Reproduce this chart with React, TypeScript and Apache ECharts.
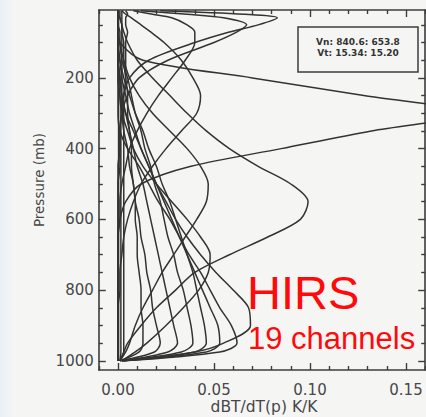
import React, { useEffect, useRef } from "react";
import * as echarts from "echarts";

// Pressure levels (mb) shared by every channel profile
const PRESSURE_MB = [10, 20, 30, 50, 70, 100, 150, 200, 250, 300, 350, 400, 450, 500, 550, 600, 650, 700, 750, 800, 850, 900, 950, 975, 1000];

// Temperature weighting functions dBT/dT(p), one array per HIRS channel
const CH01 = [0.022, 0.066, 0.083, 0.073, 0.058, 0.040, 0.016, 0.006, 0.003, 0.002, 0.001, 0.001, 0.001, 0, 0, 0, 0, 0, 0, 0, 0, 0, 0, 0, 0];
const CH02 = [0.012, 0.036, 0.055, 0.067, 0.062, 0.050, 0.026, 0.011, 0.005, 0.002, 0.001, 0.001, 0, 0, 0, 0, 0, 0, 0, 0, 0, 0, 0, 0, 0];
const CH03 = [0.008, 0.018, 0.028, 0.036, 0.040, 0.040, 0.035, 0.028, 0.021, 0.015, 0.010, 0.006, 0.004, 0.002, 0.001, 0.001, 0, 0, 0, 0, 0, 0, 0, 0, 0];
const CH04 = [0.002, 0.004, 0.007, 0.012, 0.017, 0.024, 0.033, 0.039, 0.043, 0.041, 0.033, 0.025, 0.018, 0.012, 0.008, 0.005, 0.003, 0.002, 0.001, 0.001, 0, 0, 0, 0, 0];
const CH05 = [0, 0, 0, 0, 0, 0.001, 0.013, 0.070, 0.128, 0.185, 0.132, 0.085, 0.038, 0.012, 0.004, 0.001, 0, 0, 0, 0, 0, 0, 0, 0, 0];
const CH06 = [0, 0, 0.001, 0.002, 0.003, 0.005, 0.010, 0.018, 0.027, 0.036, 0.046, 0.058, 0.073, 0.090, 0.099, 0.095, 0.078, 0.058, 0.040, 0.030, 0.020, 0.012, 0.005, 0.003, 0.001];
const CH07 = [0, 0, 0, 0, 0, 0, 0.001, 0.002, 0.004, 0.006, 0.009, 0.012, 0.016, 0.020, 0.025, 0.030, 0.036, 0.043, 0.051, 0.060, 0.068, 0.069, 0.055, 0.040, 0.003];
const CH08 = [0, 0, 0, 0, 0, 0, 0, 0, 0, 0, 0.001, 0.005, 0.011, 0.016, 0.021, 0.027, 0.032, 0.037, 0.043, 0.048, 0.053, 0.059, 0.062, 0.053, 0.003];
const CH09 = [0, 0, 0, 0, 0, 0, 0, 0.001, 0.002, 0.004, 0.008, 0.012, 0.016, 0.020, 0.024, 0.028, 0.032, 0.036, 0.040, 0.044, 0.048, 0.052, 0.053, 0.046, 0.002];
const CH10 = [0, 0, 0, 0, 0, 0, 0, 0.001, 0.001, 0.002, 0.005, 0.008, 0.013, 0.020, 0.028, 0.036, 0.043, 0.048, 0.047, 0.042, 0.034, 0.025, 0.015, 0.009, 0.002];
const CH11 = [0, 0, 0, 0, 0, 0, 0.001, 0.003, 0.006, 0.009, 0.013, 0.016, 0.020, 0.023, 0.027, 0.030, 0.033, 0.036, 0.039, 0.041, 0.043, 0.045, 0.046, 0.040, 0.002];
const CH12 = [0, 0, 0, 0, 0, 0.001, 0.002, 0.005, 0.007, 0.009, 0.012, 0.014, 0.017, 0.019, 0.022, 0.024, 0.026, 0.029, 0.031, 0.034, 0.036, 0.038, 0.039, 0.033, 0.002];
const CH13 = [0, 0, 0, 0, 0, 0, 0, 0.001, 0.002, 0.004, 0.006, 0.008, 0.010, 0.013, 0.015, 0.017, 0.019, 0.021, 0.023, 0.025, 0.027, 0.029, 0.031, 0.026, 0.002];
const CH14 = [0, 0, 0, 0, 0, 0, 0, 0, 0.001, 0.002, 0.003, 0.005, 0.006, 0.008, 0.009, 0.011, 0.012, 0.014, 0.015, 0.017, 0.018, 0.020, 0.022, 0.019, 0.001];
const CH15 = [0, 0, 0, 0, 0.001, 0.001, 0.003, 0.006, 0.011, 0.018, 0.027, 0.036, 0.043, 0.047, 0.046, 0.041, 0.035, 0.029, 0.023, 0.018, 0.013, 0.009, 0.006, 0.004, 0.001];
const CH16 = [0.001, 0.001, 0.001, 0.002, 0.002, 0.003, 0.003, 0.004, 0.005, 0.005, 0.006, 0.007, 0.007, 0.008, 0.009, 0.009, 0.010, 0.010, 0.011, 0.012, 0.012, 0.013, 0.013, 0.011, 0.001];
const CH17 = [0.004, 0.005, 0.004, 0.004, 0.005, 0.004, 0.004, 0.004, 0.003, 0.003, 0.003, 0.003, 0.003, 0.003, 0.003, 0.003, 0.003, 0.003, 0.003, 0.003, 0.003, 0.003, 0.003, 0.003, 0.001];
const CH18 = [0.002, 0.002, 0.002, 0.002, 0.002, 0.002, 0.002, 0.002, 0.002, 0.0015, 0.0015, 0.0015, 0.0015, 0.0015, 0.0015, 0.0015, 0.0015, 0.0015, 0.0015, 0.0015, 0.0015, 0.0015, 0.0015, 0.0015, 0.001];
const CH19 = [0.0003, 0.0003, 0.0003, 0.0003, 0.0003, 0.0003, 0.0003, 0.0003, 0.0003, 0.0003, 0.0003, 0.0003, 0.0003, 0.0003, 0.0003, 0.0003, 0.0003, 0.0003, 0.0003, 0.0003, 0.0003, 0.0003, 0.0003, 0.0003, 0.0003];

const CHANNELS = [CH01, CH02, CH03, CH04, CH05, CH06, CH07, CH08, CH09, CH10, CH11, CH12, CH13, CH14, CH15, CH16, CH17, CH18, CH19];

// Axis ticks
const X_MAJOR = [0, 0.05, 0.1, 0.15];
const X_MINOR = [-0.01, 0.01, 0.02, 0.03, 0.04, 0.06, 0.07, 0.08, 0.09, 0.11, 0.12, 0.13, 0.14, 0.16];
const Y_MAJOR = [200, 400, 600, 800, 1000];
const Y_MINOR = [50, 100, 150, 250, 300, 350, 450, 500, 550, 650, 700, 750, 850, 900, 950];

const LEGEND_LINES = ["Vn: 840.6: 653.8", "Vt: 15.34: 15.20"];

const X_MIN = -0.01;
const X_MAX = 0.16;
const Y_MIN = 8;
const Y_MAX = 1026;

const AXIS_COLOR = "#3c3c3c";
const TEXT_COLOR = "#474747";
const FONT = "'DejaVu Sans', 'Liberation Sans', sans-serif";

function xAxisDef(position: "top" | "bottom", ticks: number[], len: number, showLine: boolean, showLabels: boolean) {
  return {
    type: "value",
    position,
    min: X_MIN,
    max: X_MAX,
    splitLine: { show: false },
    axisLine: { show: showLine, onZero: false, lineStyle: { color: AXIS_COLOR, width: 1.6 } },
    axisTick: { show: true, inside: true, length: len, customValues: ticks, lineStyle: { color: AXIS_COLOR, width: 1.4 } },
    axisLabel: showLabels
      ? { show: true, customValues: ticks, margin: 12, color: TEXT_COLOR, fontFamily: FONT, fontSize: 15, formatter: (v: number) => v.toFixed(2) }
      : { show: false },
  };
}

function yAxisDef(position: "left" | "right", ticks: number[], len: number, showLine: boolean, showLabels: boolean) {
  return {
    type: "value",
    position,
    inverse: true,
    min: Y_MIN,
    max: Y_MAX,
    splitLine: { show: false },
    axisLine: { show: showLine, onZero: false, lineStyle: { color: AXIS_COLOR, width: 1.6 } },
    axisTick: { show: true, inside: true, length: len, customValues: ticks, lineStyle: { color: AXIS_COLOR, width: 1.4 } },
    axisLabel: showLabels
      ? { show: true, customValues: ticks, margin: 5, color: TEXT_COLOR, fontFamily: FONT, fontSize: 15, formatter: (v: number) => String(v) }
      : { show: false },
  };
}

export default function App() {
  const ref = useRef<HTMLDivElement>(null);

  useEffect(() => {
    if (!ref.current) return;
    const chart = echarts.init(ref.current, undefined, { renderer: "svg" });

    const series = CHANNELS.map((values, i) => ({
      name: `ch${i + 1}`,
      type: "line",
      xAxisIndex: 0,
      yAxisIndex: 0,
      data: values.map((v, k) => [v, PRESSURE_MB[k]]),
      showSymbol: false,
      smooth: 0.3,
      clip: true,
      lineStyle: { color: "#333333", width: 1.5 },
      emphasis: { disabled: true },
      silent: true,
    }));

    chart.setOption({
      animation: false,
      backgroundColor: "transparent",
      grid: { left: 98.8, right: 0.8, top: 10, bottom: 47, containLabel: false, outerBoundsMode: "none" },
      xAxis: [
        xAxisDef("bottom", X_MAJOR, 7, true, true),
        xAxisDef("bottom", X_MINOR, 4, false, false),
        xAxisDef("top", X_MAJOR, 7, true, false),
        xAxisDef("top", X_MINOR, 4, false, false),
      ],
      yAxis: [
        yAxisDef("left", Y_MAJOR, 7, true, true),
        yAxisDef("left", Y_MINOR, 4, false, false),
        yAxisDef("right", Y_MAJOR, 7, true, false),
        yAxisDef("right", Y_MINOR, 4, false, false),
      ],
      series,
      graphic: [
        {
          type: "text",
          x: 38.5,
          y: 180,
          rotation: Math.PI / 2,
          style: { text: "Pressure (mb)", fontFamily: FONT, fontSize: 13.5, fill: TEXT_COLOR, textAlign: "center", textVerticalAlign: "middle" },
        },
        {
          type: "text",
          x: 264,
          y: 407,
          style: { text: "dBT/dT(p) K/K", fontFamily: FONT, fontSize: 15.5, fill: TEXT_COLOR, textAlign: "center", textVerticalAlign: "middle" },
        },
        {
          type: "rect",
          shape: { x: 298, y: 27, width: 120, height: 45 },
          style: { fill: "none", stroke: AXIS_COLOR, lineWidth: 1.5 },
        },
        {
          type: "text",
          x: 358,
          y: 42,
          style: { text: LEGEND_LINES[0], fontFamily: FONT, fontSize: 9, fontWeight: "bold", fill: "#333", textAlign: "center", textVerticalAlign: "middle" },
        },
        {
          type: "text",
          x: 358,
          y: 53,
          style: { text: LEGEND_LINES[1], fontFamily: FONT, fontSize: 9, fontWeight: "bold", fill: "#333", textAlign: "center", textVerticalAlign: "middle" },
        },
        {
          type: "text",
          x: 247,
          y: 292.5,
          style: { text: "HIRS", fontFamily: "'Liberation Sans', Arial, sans-serif", fontSize: 47, fill: "#ff0a0a", textAlign: "left", textVerticalAlign: "middle" },
        },
        {
          type: "text",
          x: 248,
          y: 338,
          style: { text: "19 channels", fontFamily: "'Liberation Sans', Arial, sans-serif", fontSize: 31, fill: "#ff0a0a", textAlign: "left", textVerticalAlign: "middle" },
        },
      ],
    });

    return () => chart.dispose();
  }, []);

  return (
    <div
      style={{
        position: "absolute",
        left: 0,
        top: 0,
        width: 426,
        height: 417,
        background: "linear-gradient(to right, #eaf0f8 0px, #f5f6f4 15px)",
        overflow: "hidden",
      }}
    >
      <div ref={ref} style={{ width: 426, height: 417 }} />
    </div>
  );
}
